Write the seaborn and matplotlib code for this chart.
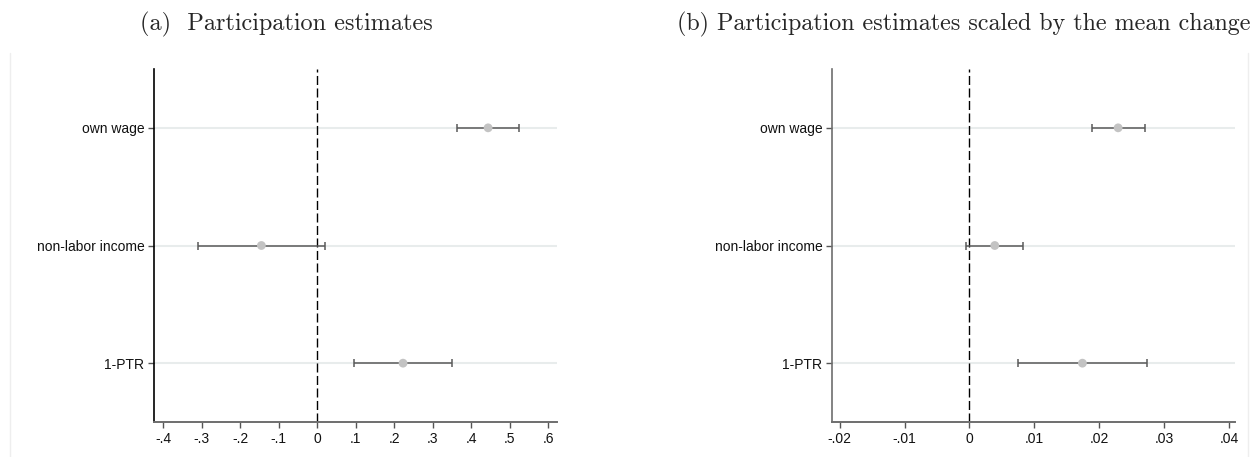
import matplotlib
matplotlib.use("Agg")
import matplotlib.pyplot as plt
from matplotlib.lines import Line2D
import seaborn as sns
import numpy as np
import pandas as pd

# ---- data ----
categories = ["own wage", "non-labor income", "1-PTR"]

est_a = [0.444, -0.145, 0.223]
lo_a = [0.364, -0.310, 0.096]
hi_a = [0.525, 0.019, 0.351]

est_b = [0.0229, 0.0039, 0.0174]
lo_b = [0.0188, -0.0006, 0.0075]
hi_b = [0.0271, 0.0083, 0.0274]

xticks_a = [-0.4, -0.3, -0.2, -0.1, 0.0, 0.1, 0.2, 0.3, 0.4, 0.5, 0.6]
xticklabels_a = ["-.4", "-.3", "-.2", "-.1", "0", ".1", ".2", ".3", ".4", ".5", ".6"]
xticks_b = [-0.02, -0.01, 0.0, 0.01, 0.02, 0.03, 0.04]
xticklabels_b = ["-.02", "-.01", "0", ".01", ".02", ".03", ".04"]

titles = ["(a)  Participation estimates",
          "(b) Participation estimates scaled by the mean change"]

sns.set_theme(style="white")
plt.rcParams["font.family"] = ["Liberation Sans", "DejaVu Sans"]

W, H = 1252, 457
fig = plt.figure(figsize=(W / 100, H / 100), dpi=100)

def px_axes(x0, y0, x1, y1):
    return fig.add_axes([x0 / W, 1 - y1 / H, (x1 - x0) / W, (y1 - y0) / H])

ax_a = px_axes(154, 69, 557, 422)
ax_b = px_axes(832, 69, 1235, 422)

panels = [
    (ax_a, est_a, lo_a, hi_a, xticks_a, xticklabels_a, (-0.424, 0.623), "black"),
    (ax_b, est_b, lo_b, hi_b, xticks_b, xticklabels_b, (-0.02117, 0.0409), "#6e6e6e"),
]

ypos = np.arange(len(categories))
for ax, est, lo, hi, xt, xtl, xl, lcol in panels:
    df = pd.DataFrame({"cat": categories, "y": ypos, "est": est, "lo": lo, "hi": hi})
    for y in ypos:
        ax.axhline(y, color="#e8ecec", lw=1.5, zorder=0)
    ax.axvline(0, color="black", lw=1.0, linestyle=(0, (6.5, 2.5)), zorder=1)
    ax.errorbar(df["est"], df["y"],
                xerr=[df["est"] - df["lo"], df["hi"] - df["est"]],
                fmt="none", ecolor="#5a5a5a", elinewidth=1.1, capsize=2.6,
                capthick=1.1, zorder=2)
    sns.scatterplot(data=df, x="est", y="y", ax=ax, color="#c3c3c3", s=40,
                    edgecolor="none", zorder=3, legend=False)
    ax.set_xlim(*xl)
    ax.set_ylim(2.5, -0.5)
    ax.set_yticks(ypos)
    ax.set_yticklabels(categories)
    ax.set_xticks(xt)
    ax.set_xticklabels(xtl)
    ax.set_xlabel("")
    ax.set_ylabel("")
    for s in ["top", "right"]:
        ax.spines[s].set_visible(False)
    ax.spines["left"].set_color(lcol)
    ax.spines["left"].set_linewidth(1.2)
    ax.spines["bottom"].set_color("#6e6e6e")
    ax.spines["bottom"].set_linewidth(1.4)
    ax.tick_params(axis="both", which="major", length=4, width=1.0,
                   color="#555555", labelsize=10, labelcolor="#111111",
                   direction="out", left=True, bottom=True, pad=3)

fig.text(286 / W, 1 - 24 / H, titles[0], ha="center", va="center",
         fontsize=17.5, family="cmr10")
fig.text(964 / W, 1 - 24 / H, titles[1], ha="center", va="center",
         fontsize=17.3, family="cmr10")

fig.add_artist(Line2D([10 / W, 10 / W], [0, 1 - 53 / H], transform=fig.transFigure,
                      color="#eeeeee", lw=1.0))
fig.add_artist(Line2D([1248 / W, 1248 / W], [0, 1 - 53 / H], transform=fig.transFigure,
                      color="#eeeeee", lw=1.0))

fig.savefig("out.png", dpi=100)
